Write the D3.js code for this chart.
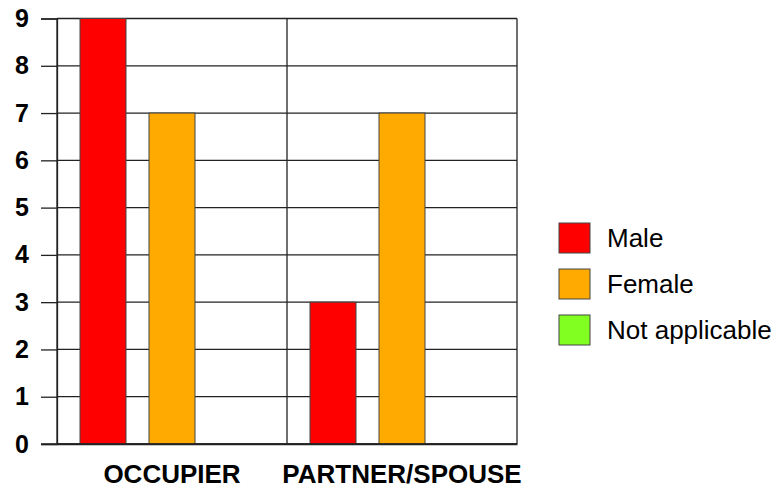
<!DOCTYPE html>
<html>
<head>
<meta charset="utf-8">
<script src="https://cdn.jsdelivr.net/npm/d3@7"></script>
<style>
  body { margin: 0; background: #fff; }
  text { font-family: "Liberation Sans", Arial, sans-serif; }
</style>
</head>
<body>
<script>
// data
var categories = ["OCCUPIER", "PARTNER/SPOUSE"];
var seriesNames = ["Male", "Female", "Not applicable"];
var maleValues = [9, 3];
var femaleValues = [7, 7];
var naValues = [0, 0];
var yTicks = [0, 1, 2, 3, 4, 5, 6, 7, 8, 9];
var colors = ["#ff0000", "#ffaa00", "#80ff20"];

var w = 776, h = 489;
var plotLeft = 57, plotRight = 517, plotTop = 18.5, plotBottom = 444;

var svg = d3.select("body").append("svg")
    .attr("width", w)
    .attr("height", h);

var xScale = d3.scaleBand()
    .domain(categories)
    .range([plotLeft, plotRight])
    .padding(0);

var xInner = d3.scaleBand()
    .domain(seriesNames)
    .range([0, xScale.bandwidth()])
    .paddingInner(1 / 3)
    .paddingOuter(1 / 3);

var yScale = d3.scaleLinear()
    .domain([0, 9])
    .range([plotBottom, plotTop]);

var color = d3.scaleOrdinal().domain(seriesNames).range(colors);

// rows for bars
var rows = [];
categories.forEach(function(c, i) {
    rows.push({cat: c, s: "Male", v: maleValues[i]});
    rows.push({cat: c, s: "Female", v: femaleValues[i]});
    rows.push({cat: c, s: "Not applicable", v: naValues[i]});
});

// horizontal grid lines
svg.append("g")
    .selectAll("line")
    .data(yTicks)
    .join("line")
    .attr("x1", plotLeft)
    .attr("x2", plotRight)
    .attr("y1", function(d) { return yScale(d); })
    .attr("y2", function(d) { return yScale(d); })
    .attr("stroke", "#222")
    .attr("stroke-width", 1.3);

// vertical lines between categories
svg.append("g")
    .selectAll("line")
    .data([plotLeft, xScale(categories[1]), plotRight])
    .join("line")
    .attr("x1", function(d) { return d; })
    .attr("x2", function(d) { return d; })
    .attr("y1", plotTop)
    .attr("y2", plotBottom)
    .attr("stroke", "#222")
    .attr("stroke-width", 1.3);

// bars
svg.append("g")
    .selectAll("rect")
    .data(rows.filter(function(d) { return d.v > 0; }))
    .join("rect")
    .attr("x", function(d) { return xScale(d.cat) + xInner(d.s); })
    .attr("y", function(d) { return yScale(d.v); })
    .attr("width", xInner.bandwidth())
    .attr("height", function(d) { return plotBottom - yScale(d.v); })
    .attr("fill", function(d) { return color(d.s); })
    .attr("stroke", "#444")
    .attr("stroke-width", 1);

// y axis
var yAxis = d3.axisLeft(yScale)
    .tickValues(yTicks)
    .tickSize(16)
    .tickPadding(12);

var yg = svg.append("g")
    .attr("transform", "translate(" + plotLeft + ",0)")
    .call(yAxis);
yg.select(".domain").attr("stroke", "#222").attr("stroke-width", 1.3);
yg.selectAll(".tick line").attr("stroke", "#222").attr("stroke-width", 1.3);
yg.selectAll(".tick text")
    .attr("fill", "#000")
    .style("font-family", "'Liberation Sans', Arial, sans-serif")
    .style("font-size", "25px")
    .style("font-weight", "bold");

// x axis labels
var xAxis = d3.axisBottom(xScale).tickSize(0).tickPadding(21);
var xg = svg.append("g")
    .attr("transform", "translate(0," + plotBottom + ")")
    .call(xAxis);
xg.select(".domain").attr("stroke", "#222").attr("stroke-width", 1.3);
xg.selectAll(".tick text")
    .attr("fill", "#000")
    .style("font-family", "'Liberation Sans', Arial, sans-serif")
    .style("font-size", "26px")
    .style("font-weight", "bold");

// bottom line extends to tick length
svg.append("line")
    .attr("x1", plotLeft - 16)
    .attr("x2", plotRight)
    .attr("y1", plotBottom)
    .attr("y2", plotBottom)
    .attr("stroke", "#222")
    .attr("stroke-width", 1.3);

// legend
var legend = svg.append("g")
    .attr("transform", "translate(559,223)");

var items = legend.selectAll("g")
    .data(seriesNames)
    .join("g")
    .attr("transform", function(d, i) { return "translate(0," + (i * 46) + ")"; });

items.append("rect")
    .attr("width", 31)
    .attr("height", 30)
    .attr("fill", function(d) { return color(d); })
    .attr("stroke", "#444")
    .attr("stroke-width", 1);

items.append("text")
    .attr("x", 48)
    .attr("y", 15)
    .attr("dy", "0.36em")
    .style("font-size", "26px")
    .attr("fill", "#000")
    .text(function(d) { return d; });
</script>
</body>
</html>
